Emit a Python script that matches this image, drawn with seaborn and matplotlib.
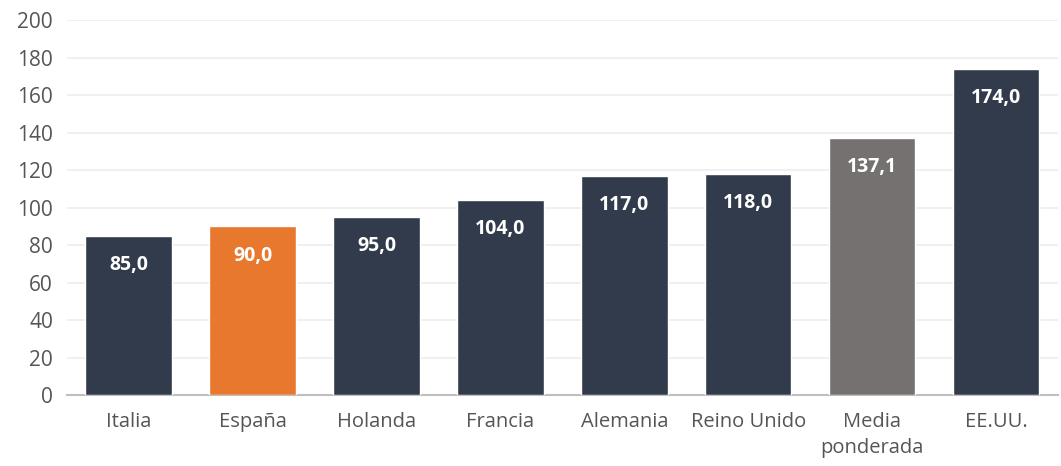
import matplotlib
matplotlib.use("Agg")
import matplotlib.pyplot as plt
import seaborn as sns
import pandas as pd

categorias = ["Italia", "España", "Holanda", "Francia", "Alemania", "Reino Unido", "Media\nponderada", "EE.UU."]
valores = [85.0, 90.0, 95.0, 104.0, 117.0, 118.0, 137.1, 174.0]
colores = ["#323b4c", "#e8782e", "#323b4c", "#323b4c", "#323b4c", "#323b4c", "#767171", "#323b4c"]
etiquetas = ["85,0", "90,0", "95,0", "104,0", "117,0", "118,0", "137,1", "174,0"]
yticks = [0, 20, 40, 60, 80, 100, 120, 140, 160, 180, 200]

sns.set_theme(style="white")
plt.rcParams["font.family"] = ["Open Sans", "DejaVu Sans"]

df = pd.DataFrame({"pais": categorias, "valor": valores})

fig = plt.figure(figsize=(10.61, 4.66), dpi=100)
ax = fig.add_axes([0.063, 0.152, 0.934, 0.805])

sns.barplot(data=df, x="pais", y="valor", hue="pais", palette=colores,
            legend=False, width=0.7, saturation=1, ax=ax, zorder=3)

ax.set_ylim(0, 200)
ax.set_yticks(yticks)
ax.set_xlim(-0.5, len(categorias) - 0.5)
ax.set_xlabel("")
ax.set_ylabel("")
ax.yaxis.grid(True, color="#eeeeee", linewidth=1.2, zorder=0)
for s in ["top", "right", "left"]:
    ax.spines[s].set_visible(False)
ax.spines["bottom"].set_color("#bfbfbf")
ax.spines["bottom"].set_linewidth(1.5)
ax.tick_params(axis="x", length=0, pad=12, labelsize=14.5, labelcolor="#555555")
ax.tick_params(axis="y", length=0, pad=10, labelsize=15, labelcolor="#555555")
for lbl in ax.get_xticklabels():
    lbl.set_linespacing(1.4)

for i, (v, t) in enumerate(zip(valores, etiquetas)):
    ax.annotate(t, xy=(i, v), xytext=(0, -21), textcoords="offset points",
                ha="center", va="center", color="white", fontsize=14,
                fontweight="bold", zorder=4)

fig.savefig("out.png", dpi=100)
